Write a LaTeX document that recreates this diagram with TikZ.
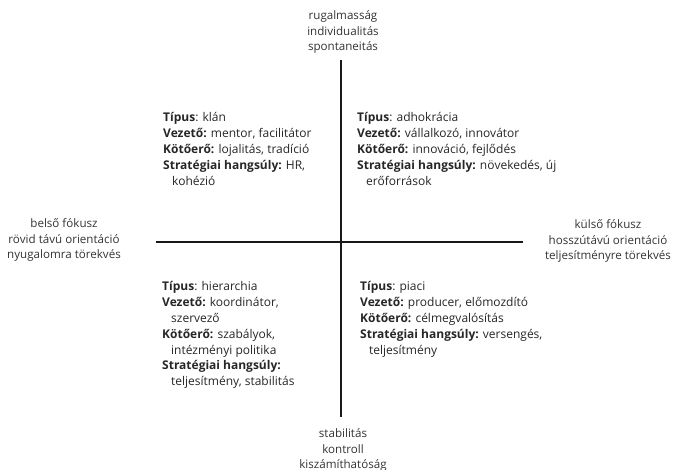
\documentclass[tikz,border=0pt]{standalone}
\usepackage{fontspec}
\setmainfont{Open Sans}
\begin{document}
\begin{tikzpicture}[x=1pt,y=-1pt,
  axis/.style={line width=1.3pt,black!90},
  pole/.style={align=center,font=\fontsize{11.6}{15.2}\selectfont,text=black!80,inner sep=0pt},
  quad/.style={align=left,anchor=north west,font=\fontsize{12}{15.8}\selectfont,text=black!85,inner sep=0pt}]
  \useasboundingbox (0,0) rectangle (678,470);
  % axes
  \coordinate (ytop) at (341,60);
  \coordinate (ybot) at (341,417);
  \coordinate (xleft) at (156,242);
  \coordinate (xright) at (523,242);
  \draw[axis] (ytop) -- (ybot);
  \draw[axis] (xleft) -- (xright);
  % pole labels
  \node[pole] (ntop) at (343,32) {rugalmasság\\individualitás\\spontaneitás};
  \node[pole] (nbot) at (343,450) {stabilitás\\kontroll\\kiszámíthatóság};
  \node[pole] (nleft) at (64,240) {belső fókusz\\rövid távú orientáció\\nyugalomra törekvés};
  \node[pole] (nright) at (608,241) {külső fókusz\\hosszútávú orientáció\\teljesítményre törekvés};
  % quadrants
  \newcommand{\cont}{\hspace*{9pt}}
  \node[quad] (klan) at (163,112.5) {\textbf{Típus}: klán\\
    \textbf{Vezető:} mentor, facilitátor\\
    \textbf{Kötőerő:} lojalitás, tradíció\\
    \textbf{Stratégiai hangsúly:} HR,\\
    \cont kohézió};
  \node[quad] (adhok) at (357,112.5) {\textbf{Típus}: adhokrácia\\
    \textbf{Vezető:} vállalkozó, innovátor\\
    \textbf{Kötőerő:} innováció, fejlődés\\
    \textbf{Stratégiai hangsúly:} növekedés, új\\
    \cont erőforrások};
  \node[quad] (hier) at (162,281.5) {\textbf{Típus}: hierarchia\\
    \textbf{Vezető:} koordinátor,\\
    \cont szervező\\
    \textbf{Kötőerő:} szabályok,\\
    \cont intézményi politika\\
    \textbf{Stratégiai hangsúly:}\\
    \cont teljesítmény, stabilitás};
  \node[quad] (piaci) at (360,281.5) {\textbf{Típus}: piaci\\
    \textbf{Vezető:} producer, előmozdító\\
    \textbf{Kötőerő:} célmegvalósítás\\
    \textbf{Stratégiai hangsúly:} versengés,\\
    \cont teljesítmény};
\end{tikzpicture}
\end{document}
